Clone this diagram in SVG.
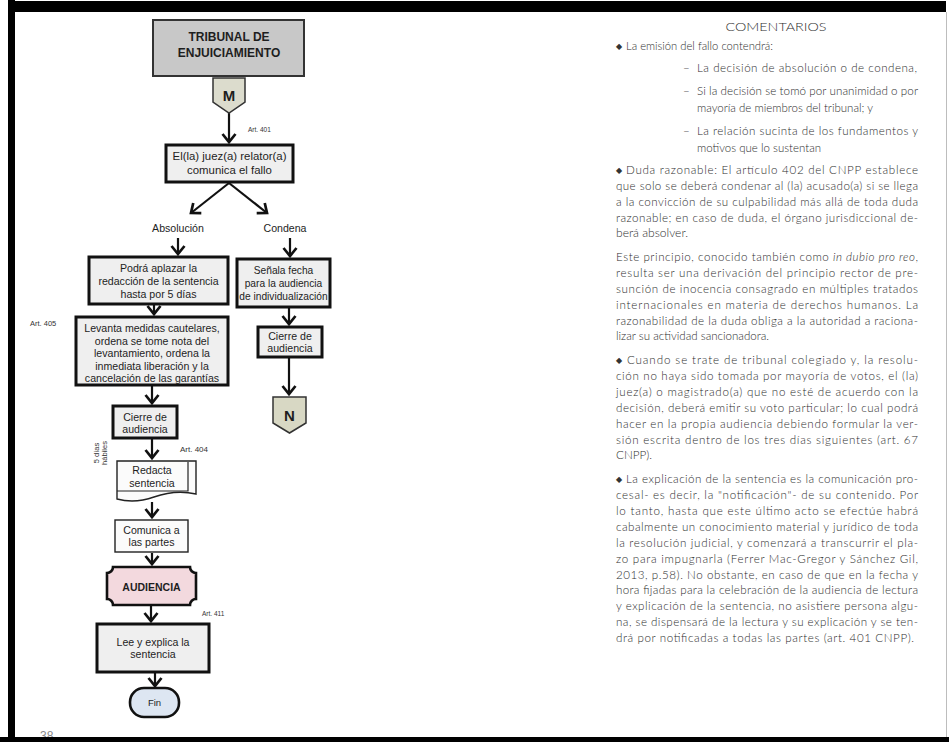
<svg xmlns="http://www.w3.org/2000/svg" width="949" height="742" viewBox="0 0 949 742">
  <style>
    .ft { font-family: "Liberation Sans", Arial, sans-serif; font-size: 10.6px; fill: #1e1e1e; text-anchor: middle; }
    .bold { font-weight: bold; }
    .art { font-family: "Liberation Sans", Arial, sans-serif; font-size: 7px; fill: #333; }
    .box { fill: #efefef; stroke: #111; stroke-width: 3; }
    .thin { fill: #fbfbfb; stroke: #222; stroke-width: 1.4; }
    .conn line { stroke: #111; stroke-width: 2.2; marker-end: url(#chev); }
    .body { font-family: Lato, "Open Sans", sans-serif; font-size: 11.6px; font-weight: 300; fill: #2e2e2e; }
    .bul { font-family: "DejaVu Sans", sans-serif; font-size: 8px; fill: #333; }
  </style>
  <defs>
    <marker id="chev" markerUnits="userSpaceOnUse" viewBox="-12 -9 15 18" markerWidth="15" markerHeight="18" refX="0" refY="0" orient="auto">
      <path d="M-8,-6.5 L0,0 L-8,6.5" fill="none" stroke="#111" stroke-width="2.7"/>
    </marker>
  </defs>

  <rect width="949" height="742" fill="#ffffff"/>

  <!-- connectors -->
  <g id="connectors" class="conn">
    <line x1="229" y1="113" x2="229" y2="142"/>
    <line x1="229" y1="183" x2="191" y2="213"/>
    <line x1="229" y1="183" x2="267" y2="213"/>
    <line x1="178" y1="238" x2="178" y2="254"/>
    <line x1="290" y1="238" x2="290" y2="256"/>
    <line x1="154" y1="305" x2="154" y2="314"/>
    <line x1="289" y1="308" x2="289" y2="324"/>
    <line x1="289" y1="358" x2="289" y2="394"/>
    <line x1="152" y1="386" x2="152" y2="403"/>
    <line x1="152" y1="439" x2="152" y2="458"/>
    <line x1="152" y1="502" x2="152" y2="517"/>
    <line x1="152" y1="553" x2="152" y2="564"/>
    <line x1="151" y1="606" x2="151" y2="621"/>
    <line x1="155" y1="673" x2="155" y2="686"/>
  </g>

  <!-- flowchart nodes -->
  <g id="tribunal">
    <rect x="153" y="20" width="151" height="56" fill="#c8c8c8" stroke="#333" stroke-width="2"/>
    <text class="ft bold" x="229" y="41" style="font-size:12px">TRIBUNAL DE</text>
    <text class="ft bold" x="229" y="57" style="font-size:12px">ENJUICIAMIENTO</text>
  </g>

  <g id="conector-m">
    <polygon points="213,78 245,78 245,102 229,113 213,102" fill="#dcdccd" stroke="#333" stroke-width="1.5"/>
    <text class="ft bold" x="229" y="101" style="font-size:15px">M</text>
  </g>

  <g id="art-401">
    <text class="art" x="248" y="132" style="font-size:6.5px">Art. 401</text>
  </g>

  <g id="comunica-fallo">
    <rect class="box" x="166" y="145" width="127" height="37"/>
    <text class="ft" x="229.5" y="160" style="font-size:11.4px">El(la) juez(a) relator(a)</text>
    <text class="ft" x="229.5" y="174" style="font-size:11.4px">comunica el fallo</text>
  </g>

  <g id="absolucion">
    <text class="ft" x="178" y="232">Absolución</text>
  </g>

  <g id="condena">
    <text class="ft" x="285" y="232">Condena</text>
  </g>

  <g id="aplazar">
    <rect class="box" x="89" y="257" width="139" height="47"/>
    <text class="ft" x="158.5" y="272">Podrá aplazar la</text>
    <text class="ft" x="158.5" y="285">redacción de la sentencia</text>
    <text class="ft" x="158.5" y="298">hasta  por 5 días</text>
  </g>

  <g id="senala-fecha">
    <rect class="box" x="237" y="259" width="93" height="48"/>
    <text class="ft" x="283.5" y="274" style="font-size:10.2px">Señala fecha</text>
    <text class="ft" x="283.5" y="287" style="font-size:10.2px">para la audiencia</text>
    <text class="ft" x="283.5" y="300" style="font-size:10.2px">de individualización</text>
  </g>

  <g id="art-405">
    <text class="art" x="30" y="326" style="font-size:7.5px">Art. 405</text>
  </g>

  <g id="levanta-medidas">
    <rect class="box" x="76" y="317" width="152" height="68"/>
    <text class="ft" x="152" y="332">Levanta medidas cautelares,</text>
    <text class="ft" x="152" y="344.5">ordena se tome nota del</text>
    <text class="ft" x="152" y="357">levantamiento, ordena la</text>
    <text class="ft" x="152" y="369.5">inmediata liberación y la</text>
    <text class="ft" x="152" y="382">cancelación de las garantías</text>
  </g>

  <g id="cierre-condena">
    <rect class="box" x="258" y="327" width="64" height="30"/>
    <text class="ft" x="290" y="340">Cierre de</text>
    <text class="ft" x="290" y="352">audiencia</text>
  </g>

  <g id="conector-n">
    <polygon points="273,397 306,397 306,423 289.5,433 273,423" fill="#d8d8c4" stroke="#333" stroke-width="1.5"/>
    <text class="ft bold" x="289.5" y="421" style="font-size:15px">N</text>
  </g>

  <g id="cierre-absolucion">
    <rect class="box" x="113" y="406" width="64" height="32"/>
    <text class="ft" x="145" y="421">Cierre de</text>
    <text class="ft" x="145" y="433">audiencia</text>
  </g>

  <g id="plazo-5-dias">
    <text class="art" transform="translate(99 453) rotate(-90)" text-anchor="middle" style="font-size:7.5px">5 días</text>
    <text class="art" transform="translate(107 453) rotate(-90)" text-anchor="middle" style="font-size:7.5px">hábiles</text>
  </g>

  <g id="art-404">
    <text class="art" x="180" y="452" style="font-size:8px">Art. 404</text>
  </g>

  <g id="redacta-sentencia">
    <path class="thin" d="M117,461 H196 V494 C183,491 168,492 154,497 C140,502 128,502 117,499 Z"/>
    <path d="M188,462 V491 H117" fill="none" stroke="#222" stroke-width="1.2"/>
    <text class="ft" x="152" y="474">Redacta</text>
    <text class="ft" x="152" y="487">sentencia</text>
  </g>

  <g id="comunica-partes">
    <rect class="thin" x="115" y="520" width="73" height="32"/>
    <text class="ft" x="151.5" y="534">Comunica a</text>
    <text class="ft" x="151.5" y="546">las partes</text>
  </g>

  <g id="audiencia">
    <path d="M113,567 L190,567 A6,6 0 0 0 196,573 L196,599 A6,6 0 0 0 190,605 L113,605 A6,6 0 0 0 107,599 L107,573 A6,6 0 0 0 113,567 Z" fill="#f3d9de" stroke="#111" stroke-width="2.6"/>
    <text class="ft bold" x="151.5" y="591" style="font-size:10.5px">AUDIENCIA</text>
  </g>

  <g id="art-411">
    <text class="art" x="202" y="616" style="font-size:6.5px">Art. 411</text>
  </g>

  <g id="lee-explica">
    <rect class="box" x="97" y="624" width="112" height="48"/>
    <text class="ft" x="153" y="646">Lee y explica la</text>
    <text class="ft" x="153" y="658">sentencia</text>
  </g>

  <g id="fin">
    <rect x="130" y="688" width="49" height="29" rx="14" ry="14" fill="#dde6f2" stroke="#111" stroke-width="2.6"/>
    <text class="ft" x="154.5" y="706" style="font-size:9.5px">Fin</text>
  </g>

  <!-- commentary column -->
  <g id="comentarios" class="body">
    <text x="776" y="31" text-anchor="middle" textLength="101" lengthAdjust="spacingAndGlyphs" style="font-size:12.5px">COMENTARIOS</text>

    <text class="bul" x="616" y="49">◆</text>
    <text x="626" y="50" textLength="147" lengthAdjust="spacingAndGlyphs">La emisión del fallo contendrá:</text>
    <text x="683" y="72">–</text>
    <text x="697" y="72" textLength="220" lengthAdjust="spacing">La decisión de absolución o de condena,</text>
    <text x="683" y="95">–</text>
    <text x="697" y="95" textLength="221" lengthAdjust="spacing">Si la decisión se tomó por unanimidad o por</text>
    <text x="697" y="112" textLength="176" lengthAdjust="spacingAndGlyphs">mayoría de miembros del tribunal; y</text>
    <text x="683" y="135">–</text>
    <text x="697" y="135" textLength="221" lengthAdjust="spacing">La relación sucinta de los fundamentos y</text>
    <text x="697" y="152" textLength="124" lengthAdjust="spacingAndGlyphs">motivos que lo sustentan</text>

    <text class="bul" x="616" y="173">◆</text>
    <text x="626" y="174" textLength="292" lengthAdjust="spacing">Duda razonable: El artículo 402 del CNPP establece</text>
    <text x="616" y="190" textLength="302" lengthAdjust="spacing">que solo se deberá condenar al (la) acusado(a) si se llega</text>
    <text x="616" y="206" textLength="302" lengthAdjust="spacing">a la convicción de su culpabilidad más allá de toda duda</text>
    <text x="616" y="222" textLength="302" lengthAdjust="spacing">razonable; en caso de duda, el órgano jurisdiccional de-</text>
    <text x="616" y="237" textLength="72" lengthAdjust="spacingAndGlyphs">berá absolver.</text>

    <text x="616" y="261" textLength="302" lengthAdjust="spacing">Este principio, conocido también como <tspan font-style="italic">in dubio pro reo</tspan>,</text>
    <text x="616" y="277" textLength="302" lengthAdjust="spacing">resulta ser una derivación del principio rector de pre-</text>
    <text x="616" y="293" textLength="302" lengthAdjust="spacing">sunción de inocencia consagrado en múltiples tratados</text>
    <text x="616" y="309" textLength="302" lengthAdjust="spacing">internacionales en materia de derechos humanos. La</text>
    <text x="616" y="325" textLength="302" lengthAdjust="spacing">razonabilidad de la duda obliga a la autoridad a raciona-</text>
    <text x="616" y="340" textLength="153" lengthAdjust="spacingAndGlyphs">lizar su actividad sancionadora.</text>

    <text class="bul" x="616" y="363">◆</text>
    <text x="627" y="364" textLength="291" lengthAdjust="spacing">Cuando se trate de tribunal colegiado y, la resolu-</text>
    <text x="616" y="380" textLength="302" lengthAdjust="spacing">ción no haya sido tomada por mayoría de votos, el (la)</text>
    <text x="616" y="396" textLength="302" lengthAdjust="spacing">juez(a) o magistrado(a) que no esté de acuerdo con la</text>
    <text x="616" y="412" textLength="302" lengthAdjust="spacing">decisión, deberá emitir su voto particular; lo cual podrá</text>
    <text x="616" y="428" textLength="302" lengthAdjust="spacing">hacer en la propia audiencia debiendo formular la ver-</text>
    <text x="616" y="444" textLength="302" lengthAdjust="spacing">sión escrita dentro de los tres días siguientes (art. 67</text>
    <text x="616" y="459" textLength="36" lengthAdjust="spacingAndGlyphs">CNPP).</text>

    <text class="bul" x="616" y="482">◆</text>
    <text x="626" y="483" textLength="292" lengthAdjust="spacing">La explicación de la sentencia es la comunicación pro-</text>
    <text x="616" y="499" textLength="302" lengthAdjust="spacing">cesal- es decir, la "notificación"- de su contenido. Por</text>
    <text x="616" y="515" textLength="302" lengthAdjust="spacing">lo tanto, hasta que este último acto se efectúe habrá</text>
    <text x="616" y="531" textLength="302" lengthAdjust="spacing">cabalmente un conocimiento material y jurídico de toda</text>
    <text x="616" y="547" textLength="302" lengthAdjust="spacing">la resolución judicial, y comenzará a transcurrir el pla-</text>
    <text x="616" y="563" textLength="302" lengthAdjust="spacing">zo para impugnarla (Ferrer Mac-Gregor y Sánchez Gil,</text>
    <text x="616" y="579" textLength="302" lengthAdjust="spacing">2013, p.58). No obstante, en caso de que en la fecha y</text>
    <text x="616" y="594" textLength="302" lengthAdjust="spacing">hora fijadas para la celebración de la audiencia de lectura</text>
    <text x="616" y="610" textLength="302" lengthAdjust="spacing">y explicación de la sentencia, no asistiere persona algu-</text>
    <text x="616" y="626" textLength="302" lengthAdjust="spacing">na, se dispensará de la lectura y su explicación y se ten-</text>
    <text x="616" y="642" textLength="298" lengthAdjust="spacing">drá por notificadas a todas las partes (art. 401 CNPP).</text>
  </g>

  <!-- page number and page frame -->
  <text x="40" y="740" style="font-family:'Liberation Sans', Arial, sans-serif; font-size:12px; fill:#888">38</text>
  <line x1="946.5" y1="12" x2="946.5" y2="737" stroke="#bdbdbd" stroke-width="1"/>
  <rect x="8" y="1" width="938" height="11" fill="#000"/>
  <rect x="8" y="0" width="7" height="742" fill="#000"/>
  <rect x="0" y="737" width="949" height="5" fill="#000"/>
</svg>
